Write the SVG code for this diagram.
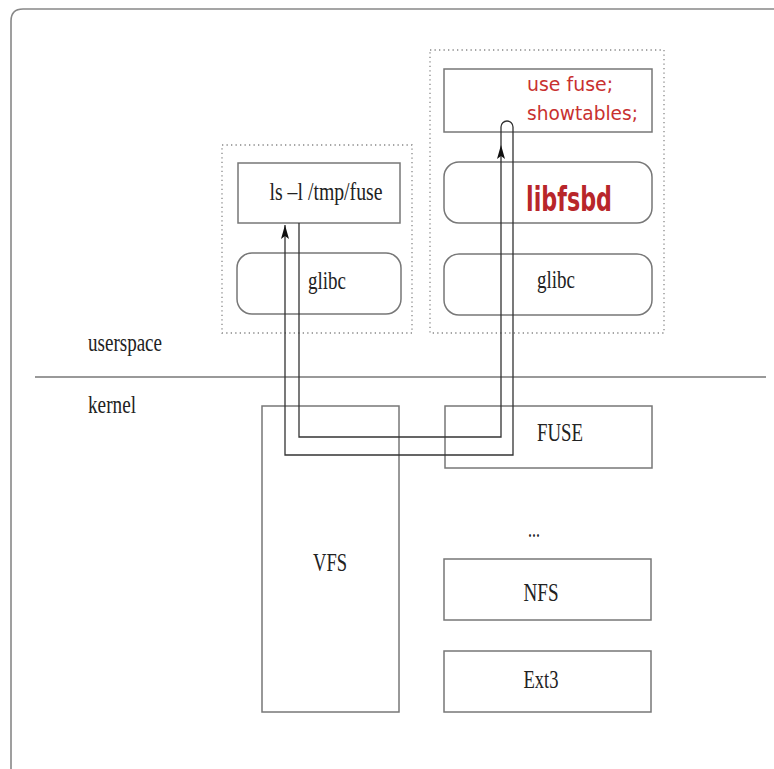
<svg xmlns="http://www.w3.org/2000/svg" width="774" height="769" viewBox="0 0 774 769">
<style>
.box{fill:#fff;stroke:#777;stroke-width:1.5}
.grp{fill:none;stroke:#888;stroke-width:1.3;stroke-dasharray:1.3 3.2}
.t{font-family:"Liberation Serif","Times New Roman",serif;font-size:25px;fill:#222;text-anchor:middle}
.lbl{font-family:"Liberation Serif","Times New Roman",serif;font-size:25px;fill:#222}
.red{font-family:"DejaVu Sans","Liberation Sans",sans-serif;font-size:20px;fill:#c8312f}
.redb{font-family:"DejaVu Sans","Liberation Sans",sans-serif;font-size:34px;font-weight:bold;fill:#b8262a}
.wire{fill:none;stroke:#333;stroke-width:1.3}
</style>
<defs>
<marker id="arr" viewBox="0 0 14 8" refX="14" refY="4" markerWidth="14" markerHeight="8" markerUnits="userSpaceOnUse" orient="auto">
<path d="M0,0 L14,4 L0,8 L3,4 Z" fill="#111"/>
</marker>
</defs>
<path d="M11,769 V21 Q11,9 23,9 H774" fill="none" stroke="#888" stroke-width="1.6"/>
<line x1="35" y1="377" x2="766" y2="377" stroke="#777" stroke-width="1.6"/>
<text class="lbl" x="88" y="351" textLength="74" lengthAdjust="spacingAndGlyphs">userspace</text>
<text class="lbl" x="88" y="413" textLength="48" lengthAdjust="spacingAndGlyphs">kernel</text>

<g id="group-left">
<rect class="grp" x="222" y="145" width="190" height="188"/>
</g>
<g id="group-right">
<rect class="grp" x="430" y="50" width="234" height="283"/>
</g>

<g id="ls">
<rect class="box" x="238" y="163" width="162" height="60"/>
<text class="t" x="326" y="200" textLength="113" lengthAdjust="spacingAndGlyphs">ls –l /tmp/fuse</text>
</g>
<g id="glibc-left">
<rect class="box" x="237" y="253" width="164" height="61" rx="15"/>
<text class="t" x="327" y="289" textLength="38" lengthAdjust="spacingAndGlyphs">glibc</text>
</g>
<g id="showtables">
<rect class="box" x="444" y="69" width="208" height="63"/>
<text class="red" x="527" y="91" textLength="86" lengthAdjust="spacingAndGlyphs">use fuse;</text>
<text class="red" x="527" y="120" textLength="111" lengthAdjust="spacingAndGlyphs">showtables;</text>
</g>
<g id="libfsbd">
<rect class="box" x="444" y="162" width="208" height="61" rx="15"/>
<text class="redb" x="526" y="211" textLength="86" lengthAdjust="spacingAndGlyphs">libfsbd</text>
</g>
<g id="glibc-right">
<rect class="box" x="444" y="254" width="208" height="61" rx="15"/>
<text class="t" x="556" y="288" textLength="38" lengthAdjust="spacingAndGlyphs">glibc</text>
</g>

<g id="vfs">
<rect class="box" x="262" y="406" width="137" height="306"/>
<text class="t" x="330" y="571" textLength="34" lengthAdjust="spacingAndGlyphs">VFS</text>
</g>
<g id="fuse">
<rect class="box" x="445" y="406" width="207" height="62"/>
<text class="t" x="560" y="441" textLength="46" lengthAdjust="spacingAndGlyphs">FUSE</text>
</g>
<g id="dots">
<text class="t" x="534" y="537" textLength="12" lengthAdjust="spacingAndGlyphs">...</text>
</g>
<g id="nfs">
<rect class="box" x="444" y="559" width="207" height="61"/>
<text class="t" x="541" y="601" textLength="35" lengthAdjust="spacingAndGlyphs">NFS</text>
</g>
<g id="ext3">
<rect class="box" x="444" y="651" width="207" height="61"/>
<text class="t" x="541" y="688" textLength="35" lengthAdjust="spacingAndGlyphs">Ext3</text>
</g>

<g id="connectors">
<path class="wire" d="M299,223 V437 H501 V145" marker-end="url(#arr)"/>
<path class="wire" d="M501,145 V127 A6,6 0 0 1 513,127 V455 H285 V225" marker-end="url(#arr)"/>
</g>
</svg>
